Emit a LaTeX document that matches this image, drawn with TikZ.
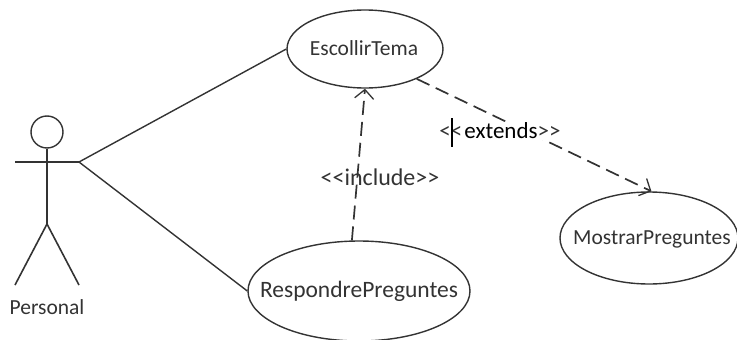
\documentclass[tikz,border=0pt]{standalone}
\usepackage{fontspec}
\setmainfont{Carlito}
\usetikzlibrary{shapes.geometric,arrows.meta}
\definecolor{ink}{HTML}{333333}
\newcommand{\fixedtxt}[2][0pt]{\smash{\raisebox{-6.5pt}{\makebox[0pt]{\hspace{#1}#2}}}}
\tikzset{
  x=1pt,y=-1pt,
  usecase/.style={draw=ink,line width=1.4pt,ellipse,inner sep=0pt,text=ink},
  stick/.style={draw=ink,line width=1.6pt},
  assoc/.style={draw=ink,line width=1.4pt},
  dep/.style={draw=ink,line width=1.7pt,dash pattern=on 14pt off 7pt,-{Straight Barb[length=9pt,width=19pt,line width=1.3pt]}},
  lbl/.style={text=ink,inner sep=0pt}
}
\begin{document}
\begin{tikzpicture}
\useasboundingbox (0,0) rectangle (737,340);
\begin{scope}
\clip (0,0) rectangle (737,340);
\node[usecase,minimum width=156pt,minimum height=78pt,font=\fontsize{21.5}{24}\selectfont] (tema) at (365,49) {\fixedtxt[-2pt]{EscollirTema}};
\node[usecase,minimum width=178pt,minimum height=92pt,font=\fontsize{21.5}{24}\selectfont] (mostrar) at (649,238) {\fixedtxt[6pt]{MostrarPreguntes}};
\node[usecase,minimum width=222pt,minimum height=100pt,font=\fontsize{23.5}{26}\selectfont] (respon) at (359,291) {\fixedtxt{RespondrePreguntes}};
\end{scope}
% actor
\node[draw=ink,line width=1.4pt,circle,minimum size=32pt,inner sep=0pt] (head) at (47,132) {};
\coordinate (hip) at (47,224);
\coordinate (handL) at (15,162);
\coordinate (handR) at (79,162);
\coordinate (footL) at (15,285);
\coordinate (footR) at (79,285);
\draw[stick] (head.south) -- (hip);
\draw[stick] (handL) -- (handR);
\draw[stick] (footL) -- (hip) -- (footR);
\node[lbl,font=\fontsize{21.5}{24}\selectfont] (personal) at (47,307) {Personal};
% associations
\draw[assoc] (handR) -- (tema.west);
\draw[assoc] (handR) -- (respon.west);
% dependencies
\draw[dep] (respon.98) -- (tema.south);
\draw[dep] (tema.-30) -- (mostrar.87);
% labels
\node[lbl,fill=white,inner ysep=1pt,inner xsep=1pt,font=\fontsize{23}{26}\selectfont] (extends) at (500,131) {<{}<\hspace{2pt}{\color{black}extends}>{}>};
\node[lbl,font=\fontsize{24}{26}\selectfont] (include) at (380,177) {<{}<include>{}>};
\node[minimum width=1.5pt,minimum height=29pt,inner sep=0pt,fill=black] (cursor) at (452,132.5) {};
\end{tikzpicture}
\end{document}
